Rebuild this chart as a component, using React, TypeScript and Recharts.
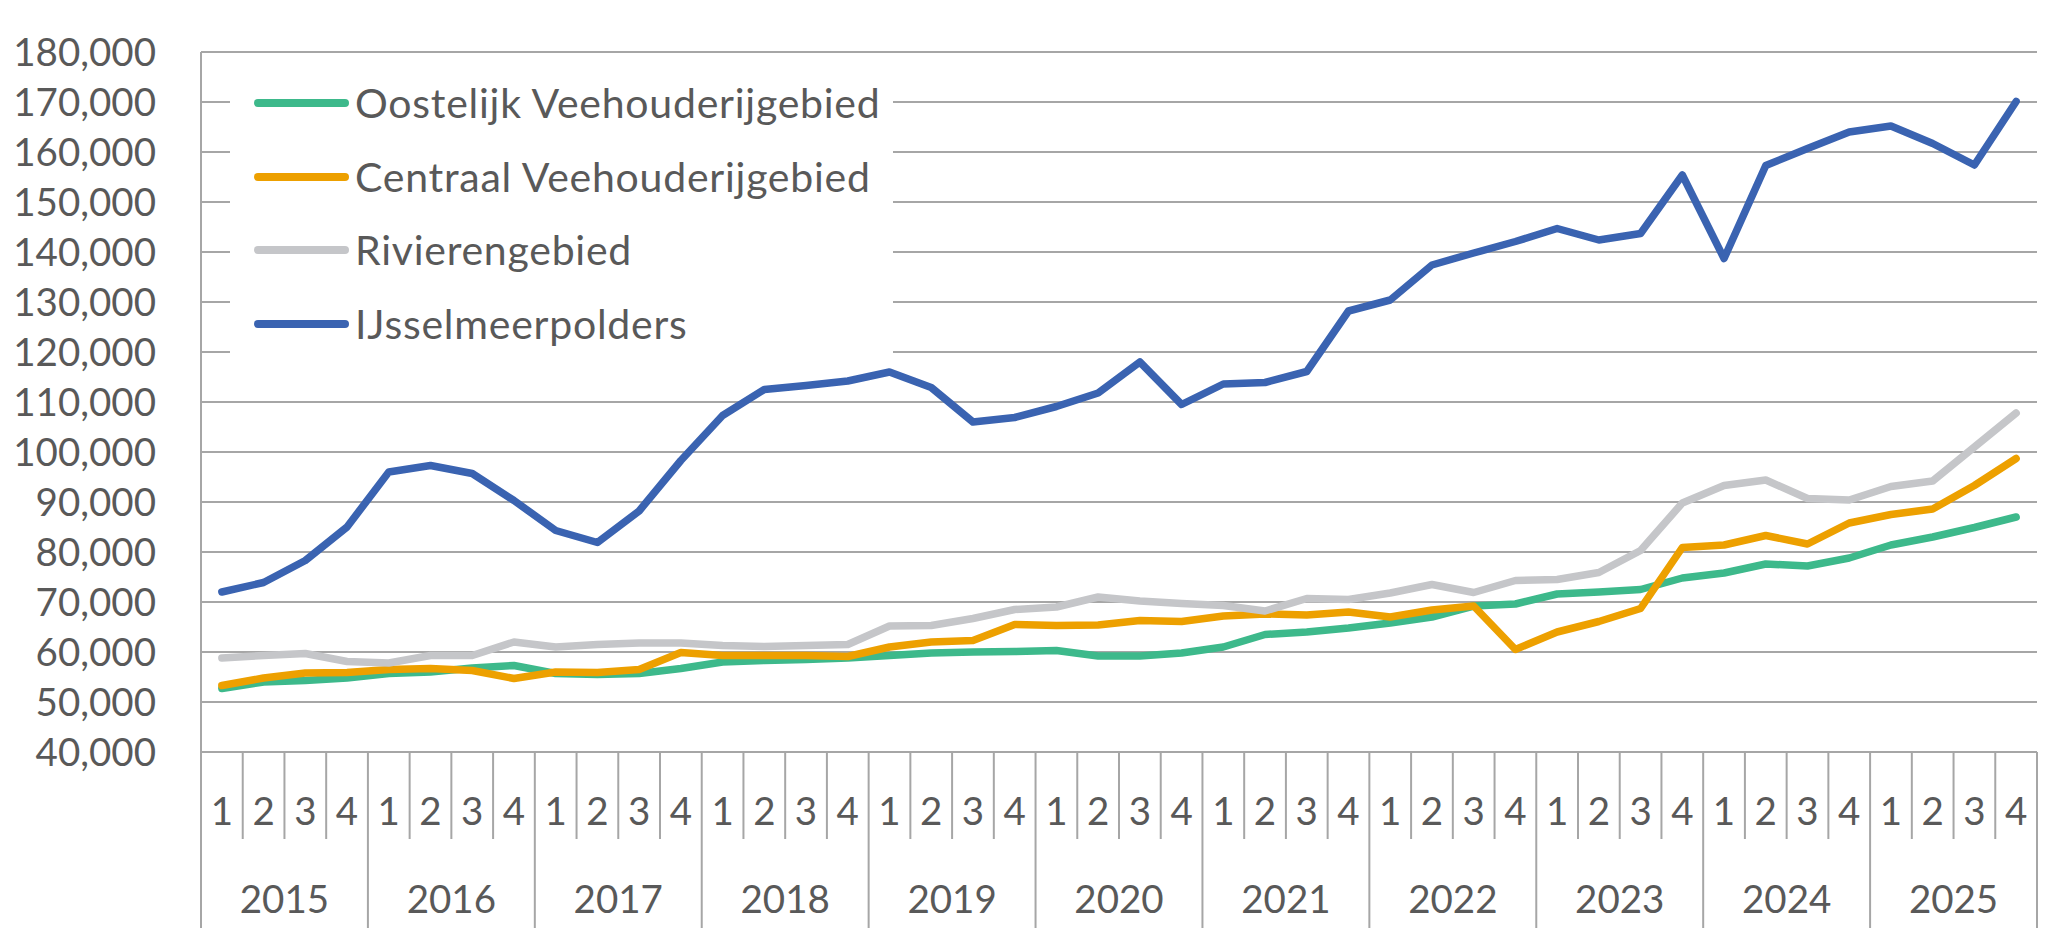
import React from "react";
import { LineChart, Line, XAxis, YAxis, CartesianGrid, Legend } from "recharts";

// categories
const years = ["2015", "2016", "2017", "2018", "2019", "2020", "2021", "2022", "2023", "2024", "2025"];
const quarters = ["1", "2", "3", "4"];

// series values, one per quarter (2015 Q1 .. 2025 Q4)
const oostelijk = [
  52700, 54000, 54300, 54800, 55700, 56000, 56800, 57300, 55700, 55500, 55700, 56700,
  58000, 58300, 58500, 58800, 59300, 59800, 60000, 60100, 60300, 59200, 59200, 59800,
  61000, 63500, 64000, 64800, 65800, 67000, 69200, 69600, 71600, 72000, 72500, 74800,
  75800, 77600, 77200, 78800, 81400, 83000, 84900, 87000,
];
const centraal = [
  53300, 54800, 55800, 55900, 56500, 56700, 56300, 54700, 56000, 55900, 56500, 59900,
  59300, 59300, 59300, 59100, 61000, 62000, 62300, 65500, 65300, 65400, 66300, 66100,
  67200, 67600, 67400, 68000, 67000, 68400, 69200, 60500, 64000, 66100, 68700, 80900,
  81400, 83300, 81600, 85800, 87500, 88600, 93300, 98700,
];
const rivieren = [
  58800, 59300, 59700, 58100, 57800, 59300, 59300, 62000, 61000, 61500, 61800, 61800,
  61300, 61100, 61300, 61500, 65200, 65300, 66700, 68500, 69000, 71000, 70200, 69700,
  69300, 68200, 70700, 70500, 71800, 73500, 71900, 74300, 74500, 75900, 80300, 89800,
  93300, 94400, 90700, 90400, 93100, 94200, 101000, 107800,
];
const ijsselmeer = [
  72000, 73900, 78300, 85000, 96000, 97300, 95700, 90300, 84300, 81900, 88200, 98300,
  107300, 112500, 113300, 114200, 116000, 112900, 106000, 106900, 109100, 111800, 118000, 109500,
  113600, 113900, 116100, 128200, 130400, 137400, 139800, 142100, 144700, 142400, 143700, 155400,
  138700, 157300, 160700, 164000, 165200, 161700, 157400, 170100,
];

// tick labels
const yTicks = [40000, 50000, 60000, 70000, 80000, 90000, 100000, 110000, 120000, 130000, 140000, 150000, 160000, 170000, 180000];

const series = [
  { key: "oostelijk", name: "Oostelijk Veehouderijgebied", color: "#3DB98B", values: oostelijk },
  { key: "centraal", name: "Centraal Veehouderijgebied", color: "#EDA000", values: centraal },
  { key: "rivieren", name: "Rivierengebied", color: "#C5C6C9", values: rivieren },
  { key: "ijsselmeer", name: "IJsselmeerpolders", color: "#3A63B1", values: ijsselmeer },
];

const data = years.flatMap((year, yi) =>
  quarters.map((q, qi) => {
    const i = yi * quarters.length + qi;
    const row: Record<string, string | number> = { cat: `${year} ${q}`, year, q };
    series.forEach((s) => {
      row[s.key] = s.values[i];
    });
    return row;
  })
);

// layout
const W = 2053;
const H = 928;
const PLOT_L = 201;
const PLOT_R = 2037;
const PLOT_T = 52;
const PLOT_B = 752;
const BAND = (PLOT_R - PLOT_L) / data.length;
const FONT = "Lato, 'Open Sans', sans-serif";
const TEXT = "#595959";
const GRID = "#A6A6A6";
const FS = 38.5;

const YTick = (props: any) => {
  const { y, payload } = props;
  return (
    <text x={PLOT_L - 45} y={y + 14} textAnchor="end" fontFamily={FONT} fontSize={FS} fill={TEXT}>
      {Number(payload.value).toLocaleString("en-US")}
    </text>
  );
};

const XTick = (props: any) => {
  const { x, index } = props;
  const row = data[index];
  if (!row) return null;
  const half = BAND / 2;
  const lastOfYear = index % 4 === 3;
  return (
    <g>
      {index === 0 && <line x1={x - half} x2={x - half} y1={PLOT_B} y2={H} stroke={GRID} strokeWidth={2} />}
      <line x1={x + half} x2={x + half} y1={PLOT_B} y2={lastOfYear ? H : 839} stroke={GRID} strokeWidth={2} />
      <text x={x} y={825} textAnchor="middle" fontFamily={FONT} fontSize={FS} fill={TEXT}>
        {row.q}
      </text>
      {index % 4 === 1 && (
        <text x={x + half} y={913} textAnchor="middle" fontFamily={FONT} fontSize={FS} fill={TEXT}>
          {row.year}
        </text>
      )}
    </g>
  );
};

const LEG_L = 230;
const LEG_T = 65;
const LEG_W = 663;
const LEG_H = 297;
const legendRows = [38, 112, 185, 259];

const renderLegend = () => (
  <svg width={LEG_W} height={LEG_H} style={{ display: "block" }}>
    <rect x={0} y={0} width={LEG_W} height={LEG_H} fill="#fff" />
    {series.map((s, i) => (
      <g key={s.key}>
        <line x1={28} x2={115} y1={legendRows[i]} y2={legendRows[i]} stroke={s.color} strokeWidth={8} strokeLinecap="round" />
        <text x={125} y={legendRows[i] + 14.5} fontFamily={FONT} fontSize={41} letterSpacing={0.75} fill={TEXT}>
          {s.name}
        </text>
      </g>
    ))}
  </svg>
);

export default function App() {
  return (
    <div style={{ position: "absolute", left: 0, top: 0, width: W, height: H, background: "#fff" }}>
      <LineChart
        width={W}
        height={H}
        data={data}
        margin={{ top: PLOT_T, right: W - PLOT_R, left: 11, bottom: 0 }}
      >
        <CartesianGrid vertical={false} stroke={GRID} strokeWidth={2} />
        <XAxis
          dataKey="cat"
          interval={0}
          padding={{ left: BAND / 2, right: BAND / 2 }}
          tickLine={false}
          tickSize={0}
          axisLine={{ stroke: GRID, strokeWidth: 2 }}
          height={H - PLOT_B}
          tick={<XTick />}
        />
        <YAxis
          domain={[40000, 180000]}
          ticks={yTicks}
          interval={0}
          width={PLOT_L - 11}
          tickLine={false}
          tickSize={0}
          axisLine={{ stroke: GRID, strokeWidth: 2 }}
          tick={<YTick />}
        />
        <YAxis
          yAxisId="right"
          orientation="right"
          domain={[40000, 180000]}
          width={0}
          tick={false}
          tickLine={false}
          axisLine={{ stroke: GRID, strokeWidth: 2 }}
        />
        <Legend
          layout="vertical"
          align="center"
          verticalAlign="middle"
          content={renderLegend}
          wrapperStyle={{ left: LEG_L, top: LEG_T, width: LEG_W, height: LEG_H }}
        />
        {series.map((s) => (
          <Line
            key={s.key}
            type="linear"
            dataKey={s.key}
            name={s.name}
            stroke={s.color}
            strokeWidth={7.5}
            strokeLinecap="round"
            strokeLinejoin="round"
            dot={false}
            activeDot={false}
            isAnimationActive={false}
          />
        ))}
      </LineChart>
    </div>
  );
}
